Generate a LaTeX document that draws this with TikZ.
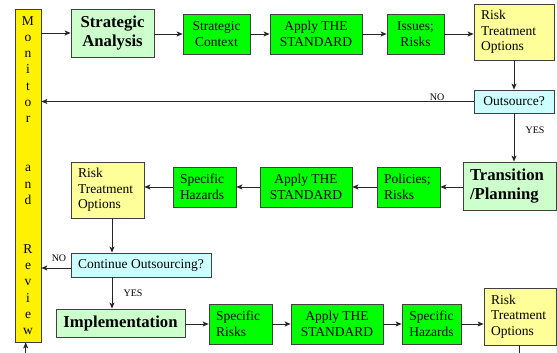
\documentclass[tikz,border=0pt]{standalone}
\usepackage{fontspec}
\setmainfont{Liberation Serif}
\usetikzlibrary{arrows.meta}
\definecolor{brgreen}{HTML}{00FF00}
\definecolor{ltgreen}{HTML}{CCFFCC}
\definecolor{ltyellow}{HTML}{FFFF99}
\definecolor{ltcyan}{HTML}{CCFFFF}
\definecolor{bdr}{HTML}{404040}
\begin{document}
\begin{tikzpicture}[x=1pt,y=-1pt,
  base/.style={draw=bdr,line width=0.8pt,inner sep=0pt,align=center,
    font=\fontsize{13.5}{15.7}\selectfont},
  grn/.style={base,fill=brgreen,minimum height=40},
  lgr/.style={base,fill=ltgreen,font=\bfseries\fontsize{16.7}{19}\selectfont},
  ylw/.style={base,fill=ltyellow,minimum height=56},
  cyn/.style={base,fill=ltcyan},
  lft/.style={align=left,inner xsep=7pt},
  arr/.style={draw=black!85,line width=0.8pt,-{Stealth[length=6pt,width=5pt,inset=1.5pt]}},
  ln/.style={draw=black!85,line width=0.8pt},
  lbl/.style={font=\fontsize{10}{12}\selectfont,inner sep=1pt}
]
\useasboundingbox (0,0) rectangle (557,353);

% monitor bar
\node[draw=bdr,line width=0.8pt,fill=yellow,minimum width=26,minimum height=333,inner sep=0pt,
  align=center,font=\fontsize{13.5}{16.3}\selectfont] (bar) at (28,175.5)
  {M\\o\\n\\i\\t\\o\\r\\[32.6pt]a\\n\\d\\[32.6pt]R\\e\\v\\i\\e\\w};

% top row
\node[lgr,minimum width=83,minimum height=48] (sa) at (112.5,33) {Strategic\\Analysis};
\node[grn,minimum width=67] (sc) at (216.5,34) {Strategic\\Context};
\node[grn,minimum width=92] (as1) at (316,34) {Apply THE\\STANDARD};
\node[grn,minimum width=57] (ir) at (415.5,34) {Issues;\\Risks};
\node[ylw,lft,text width=66] (rto1) at (514,32) {Risk\\Treatment\\Options};
\node[cyn,minimum width=80,minimum height=23] (out) at (514,101.5) {Outsource?};

% middle row
\node[lgr,lft,text width=79,minimum height=48] (tp) at (509.5,186) {Transition\\/Planning};
\node[grn,lft,text width=49] (pr) at (408.5,187) {Policies;\\Risks};
\node[grn,minimum width=92] (as2) at (306,187) {Apply THE\\STANDARD};
\node[grn,lft,text width=49] (sh1) at (204.5,187) {Specific\\Hazards};
\node[ylw,lft,text width=59] (rto2) at (107.5,190) {Risk\\Treatment\\Options};
\node[cyn,minimum width=140,minimum height=24] (co) at (141,265) {Continue Outsourcing?};

% bottom row
\node[lgr,minimum width=129,minimum height=28] (imp) at (120.5,323) {Implementation};
\node[grn,lft,text width=49] (sr) at (240.5,324) {Specific\\Risks};
\node[grn,minimum width=92] (as3) at (337,324) {Apply THE\\STANDARD};
\node[grn,minimum width=59] (sh2) at (431.5,324) {Specific\\Hazards};
\node[ylw,lft,text width=58,minimum height=57] (rto3) at (520,316.5) {Risk\\Treatment\\Options};

\coordinate (v) at (112,0);
\coordinate (e0) at (25.7,353);
\coordinate (e3) at (519,353);

% connectors top
\draw[arr] (bar.east |- sa.west) -- (sa.west);
\draw[arr] (sc.west -| sa.east) -- (sc.west);
\draw[arr] (sc.east) -- (as1.west);
\draw[arr] (as1.east) -- (ir.west);
\draw[arr] (ir.east) -- (ir.east -| rto1.west);
\draw[arr] (rto1.south) -- (out.north);
\draw[arr] (out.west) -- (out.west -| bar.east);
\node[lbl,fill=white] at (437,97) {NO};
\draw[arr] (out.south) -- (out.south |- tp.north);
\node[lbl] at (535,130) {YES};

% connectors middle
\draw[arr] (pr.east -| tp.west) -- (pr.east);
\draw[arr] (pr.west) -- (as2.east);
\draw[arr] (as2.west) -- (sh1.east);
\draw[arr] (sh1.west) -- (sh1.west -| rto2.east);
\draw[arr] (rto2.south -| v) -- (co.north -| v);
\draw[arr] ([yshift=-3pt]co.west) -- ([yshift=-3pt]co.west -| bar.east);
\node[lbl] at (59,258) {NO};
\draw[arr] (co.south -| v) -- (imp.north -| v);
\node[lbl] at (133,293) {YES};

% connectors bottom
\draw[arr] (sr.west -| imp.east) -- (sr.west);
\draw[arr] (sr.east) -- (as3.west);
\draw[arr] (as3.east) -- (sh2.west);
\draw[arr] (sh2.east) -- (sh2.east -| rto3.west);
\draw[ln] (rto3.south -| e3) -- (e3);
\draw[arr] (e0) -- (e0 |- bar.south);
\end{tikzpicture}
\end{document}
